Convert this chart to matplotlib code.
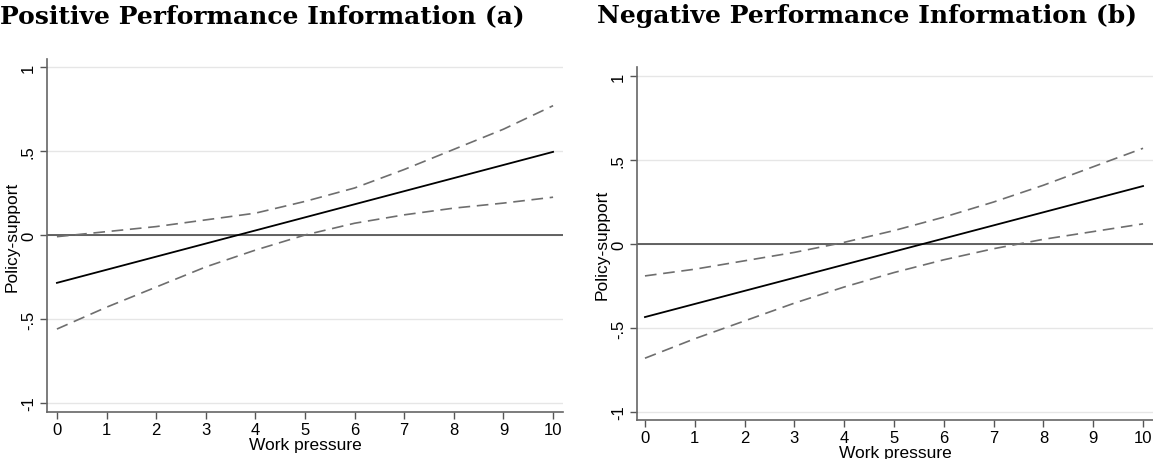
import matplotlib
matplotlib.use("Agg")
import matplotlib.pyplot as plt
import numpy as np

plt.rcParams['font.family'] = ['Liberation Sans', 'DejaVu Sans']

# work pressure 0..10
work_pressure = [0, 1, 2, 3, 4, 5, 6, 7, 8, 9, 10]

# panel (a): positive performance information
pos_effect = [-0.285, -0.207, -0.129, -0.051, 0.027, 0.105, 0.183, 0.261, 0.339, 0.417, 0.495]
pos_upper = [-0.01, 0.02, 0.05, 0.09, 0.13, 0.20, 0.28, 0.39, 0.51, 0.63, 0.77]
pos_lower = [-0.56, -0.43, -0.31, -0.19, -0.09, 0.00, 0.07, 0.12, 0.16, 0.19, 0.225]

# panel (b): negative performance information
neg_effect = [-0.435, -0.357, -0.279, -0.201, -0.123, -0.045, 0.033, 0.111, 0.189, 0.267, 0.345]
neg_upper = [-0.19, -0.15, -0.10, -0.05, 0.01, 0.08, 0.16, 0.25, 0.35, 0.46, 0.57]
neg_lower = [-0.68, -0.564, -0.458, -0.352, -0.256, -0.17, -0.094, -0.028, 0.028, 0.074, 0.12]

titles = ["Positive Performance Information (a)", "Negative Performance Information (b)"]
y_ticks = [-1, -0.5, 0, 0.5, 1]
y_ticklabels = ["-1", "-.5", "0", ".5", "1"]

fig = plt.figure(figsize=(11.53, 4.60), dpi=100)
ax1 = fig.add_axes([47/1153, 1-413/460, (563-47)/1153, (413-60)/460])
ax2 = fig.add_axes([637/1153, 1-421/460, (1153-637)/1153, (421-68)/460])

panels = [
    (ax1, pos_effect, pos_upper, pos_lower, (-0.2, 10.2), (-1.054, 1.048)),
    (ax2, neg_effect, neg_upper, neg_lower, (-0.16, 10.2), (-1.048, 1.054)),
]

for ax, eff, up, lo, xl, yl in panels:
    for yt in y_ticks:
        ax.axhline(yt, color='#e6e6e6', lw=1, zorder=0)
    ax.axhline(0, color='#3a3a3a', lw=1.1, zorder=1)
    ax.plot(work_pressure, up, color='#6e6e6e', lw=1.2, dashes=(7, 4), zorder=2)
    ax.plot(work_pressure, lo, color='#6e6e6e', lw=1.2, dashes=(7, 4), zorder=2)
    ax.plot(work_pressure, eff, color='black', lw=1.3, zorder=3)
    ax.set_xlim(*xl)
    ax.set_ylim(*yl)
    ax.set_xticks(work_pressure)
    ax.set_yticks(y_ticks)
    ax.set_yticklabels(y_ticklabels, rotation=90, va='center')
    ax.tick_params(labelsize=12, length=5, width=1, color='#555555', pad=3)
    ax.tick_params(axis='x', pad=2)
    for s in ['top', 'right']:
        ax.spines[s].set_visible(False)
    for s in ['left', 'bottom']:
        ax.spines[s].set_color('#666666')
        ax.spines[s].set_linewidth(1.2)
    ax.set_xlabel("Work pressure", fontsize=12.5, labelpad=0)
    ax.set_ylabel("Policy-support", fontsize=12.5, labelpad=1)

fig.text(0.0, 1-4/460, titles[0], family='DejaVu Serif', weight='bold',
         fontsize=18, va='top', ha='left')
fig.text(597/1153, 1-4/460, titles[1], family='DejaVu Serif', weight='bold',
         fontsize=18, va='top', ha='left')

fig.savefig("out.png", dpi=100)
